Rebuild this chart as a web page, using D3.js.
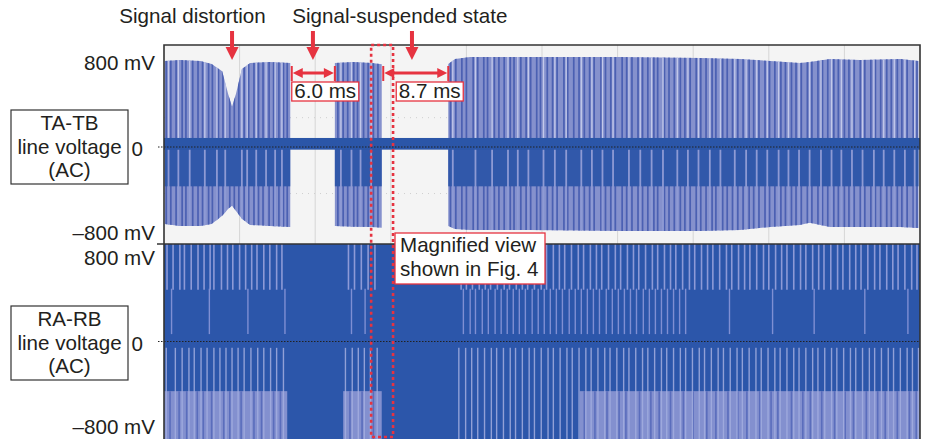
<!DOCTYPE html>
<html>
<head>
<meta charset="utf-8">
<script src="https://cdn.jsdelivr.net/npm/d3@7"></script>
<style>
  body { margin: 0; background: #fff; }
  svg text { font-family: "Liberation Sans", Arial, Helvetica, sans-serif; font-size: 20.6px; fill: #231f20; }
</style>
</head>
<body>
<svg width="926" height="439"></svg>
<script>
// time axis in ms (10 ms / division), voltage in mV
const timeDomain = [0, 100];
const voltTicks = [800, 0, -800];
const voltLabels = ["800 mV", "0", "\u2013800 mV"];
const channelNames = [["TA-TB", "line voltage", "(AC)"], ["RA-RB", "line voltage", "(AC)"]];

// TA-TB envelope samples [t, top, bottom]; null = no signal
const taEnvelope = [
  [0.1, 810, -724], [2.1, 819, -743], [4.8, 810, -743], [6.3, 781, -724], [7.7, 714, -648],
  [8.5, 495, -581], [9.0, 381, -552], [9.5, 495, -600], [10.3, 733, -676], [11.4, 790, -733],
  [14.0, 800, -743], [16.7, 790, -752],
  null,
  [22.6, 790, -743], [25.0, 800, -750], [27.5, 790, -752], [28.8, 780, -760],
  null,
  [37.6, 781, -743], [38.5, 829, -771], [40.5, 848, -781], [48.4, 848, -781], [60.3, 848, -790],
  [70.9, 838, -790], [76.2, 829, -781], [80.2, 810, -752], [84.1, 790, -733], [85.4, 800, -714],
  [88.1, 829, -752], [92.1, 819, -752], [97.4, 829, -752], [99.8, 810, -762]
];
// dark and pale traces inside the TA-TB bursts (ms)
const taDark = [0.3, 0.9, 1.6, 2.4, 2.9, 3.8, 4.5, 5.1, 5.9, 6.4, 7.2, 7.8, 8.7, 9.3, 9.9, 10.6, 11.2,
  11.9, 12.5, 13.1, 13.9, 14.5, 15.2, 15.8, 16.3,
  23.0, 23.7, 24.3, 25.1, 25.6, 26.4, 27.0, 27.7, 28.3,
  37.9, 38.6, 39.4, 40.0, 40.9, 41.5, 42.3, 42.8, 43.7, 44.3, 45.0, 45.8, 46.3, 47.2, 47.9, 48.5,
  49.3, 49.8, 50.7, 51.4, 52.0, 52.9, 53.4, 54.2, 54.9, 55.6, 56.3, 56.9, 57.8, 58.4, 59.1, 59.7,
  60.6, 61.2, 61.9, 62.7, 63.3, 64.0, 64.8, 65.3, 66.2, 66.8, 67.5, 68.3, 68.9, 69.6, 70.4, 71.0,
  71.7, 72.5, 73.0, 73.9, 74.5, 75.2, 75.9, 76.6, 77.4, 78.0, 78.7, 79.5, 80.1, 80.8, 81.6, 82.2,
  83.0, 83.6, 84.3, 85.1, 85.7, 86.5, 87.1, 87.8, 88.6, 89.2, 90.0, 90.6, 91.3, 92.1, 92.7, 93.5,
  94.1, 94.8, 95.6, 96.2, 97.0, 97.6, 98.3, 99.1, 99.6];
const taPale = [0.6, 1.9, 3.4, 5.4, 7.0, 8.1, 10.3, 11.0, 12.2, 13.5, 14.7, 15.6,
  23.4, 24.8, 26.0, 27.4,
  38.2, 41.2, 43.4, 45.5, 46.8, 48.2, 50.2, 51.7, 53.2, 55.2, 56.6, 58.0, 59.4, 61.5, 63.0, 64.5,
  66.0, 67.9, 69.3, 70.7, 72.2, 73.6, 75.5, 77.0, 78.4, 79.8, 81.3, 82.6, 84.0, 85.4, 86.9, 88.3,
  89.6, 91.0, 92.4, 93.9, 95.2, 96.6, 98.0, 99.3];

// RA-RB: pale lower bands [t0, t1] and traces (ms)
const raPaleBands = [[0, 16.3], [23.7, 28.8], [55.0, 100]];
const raUpper = [0.4, 1.2, 2.1, 2.7, 3.6, 4.5, 5.3, 6.1, 6.6, 7.6, 8.4, 9.1, 10.0, 10.8, 11.6, 12.3,
  13.2, 14.0, 14.9, 15.6,
  24.4, 25.2, 26.1, 27.0, 27.9,
  39.3, 40.0, 40.8, 41.7, 42.5, 43.2, 44.1, 45.0, 45.7, 46.6, 47.4, 48.1, 49.0, 49.9, 50.6, 51.5,
  52.3, 53.0, 53.9, 54.8, 55.5, 56.4, 57.2, 57.9, 58.8, 59.7, 60.4, 61.3, 62.1, 62.8, 63.7, 64.6,
  65.3, 66.2, 67.0, 67.7, 68.6, 69.5, 70.2, 71.1, 71.9, 72.6, 73.5, 74.4, 75.1, 76.0, 76.8, 77.5,
  78.4, 79.3, 80.0, 80.9, 81.7, 82.4, 83.3, 84.2, 84.9, 85.8, 86.6, 87.3, 88.2, 89.1, 89.8, 90.7,
  91.5, 92.2, 93.1, 94.0, 94.7, 95.6, 96.4, 97.1, 98.0, 98.9, 99.6];
const raLong = [1.0, 6.0, 11.1, 16.0, 24.8, 26.6,
  39.6, 40.5, 41.2, 42.1, 42.9, 43.8, 44.6, 45.4, 46.2, 47.0, 47.8, 48.7, 49.5, 50.3, 51.1, 51.9,
  52.7, 53.6, 54.4, 55.2, 56.0, 56.8, 57.6, 58.5, 59.3, 60.1, 60.9, 61.7, 62.5, 63.4, 64.2, 65.0,
  65.8, 66.6, 67.4, 68.2, 69.0, 74.8, 80.5, 86.0, 92.7, 98.4];
const raLower = [0.3, 1.5, 2.4, 3.3, 4.0, 4.9, 5.7, 6.6, 7.4, 8.2, 9.0, 9.8, 10.6, 11.5, 12.4, 13.2,
  14.1, 14.9, 15.8,
  24.0, 24.9, 25.7, 26.5, 27.3, 28.2,
  39.0, 39.9, 40.7, 41.5, 42.4, 43.3, 44.0, 44.9, 45.8, 46.5, 47.4, 48.3, 49.0, 49.9, 50.8, 51.5,
  52.4, 53.3, 54.0, 54.9, 55.8, 56.5, 57.4, 58.3, 59.0, 59.9, 60.8, 61.5, 62.4, 63.3, 64.0, 64.9,
  65.8, 66.5, 67.4, 68.3, 69.0, 69.9, 70.8, 71.5, 72.4, 73.3, 74.0, 74.9, 75.8, 76.5, 77.4, 78.3,
  79.0, 79.9, 80.8, 81.5, 82.4, 83.3, 84.0, 84.9, 85.8, 86.5, 87.4, 88.3, 89.0, 89.9, 90.8, 91.5,
  92.4, 93.3, 94.0, 94.9, 95.8, 96.5, 97.4, 98.3, 99.0, 99.8];
const raBandDark = [0.8, 2.0, 3.0, 4.4, 5.2, 6.3, 7.9, 8.7, 10.2, 11.9, 12.9, 14.5, 15.4,
  24.6, 26.2, 27.7,
  55.6, 57.0, 58.6, 60.2, 61.1, 62.9, 64.4, 65.5, 67.0, 68.7, 70.0, 71.8, 73.0, 74.6, 75.9, 77.1,
  78.8, 80.3, 81.2, 83.0, 84.5, 85.5, 87.0, 88.7, 90.1, 91.2, 92.9, 94.4, 95.4, 97.0, 98.6, 99.5];

// annotations
const arrowTimes = [9.0, 19.7, 32.8];
const headings = [{ label: "Signal distortion", t: 3.77 }, { label: "Signal-suspended state", t: 31.2 }];
const spans = [{ t0: 16.9, t1: 22.6, label: "6.0 ms", dx: 0 }, { t0: 29.0, t1: 37.6, label: "8.7 ms", dx: 13 }];
const zoomWindow = [27.4, 30.3];

const red = "#e63340";
const svg = d3.select("svg");
const defs = svg.append("defs");

const x = d3.scaleLinear().domain(timeDomain).range([164, 920]);
const yTop = d3.scaleLinear().domain([-800, 800]).range([232, 62]);
const yBot = d3.scaleLinear().domain([-800, 800]).range([426, 257]);
const plotW = x(100) - x(0);

defs.append("clipPath").attr("id", "topClip")
  .append("rect").attr("x", x(0)).attr("y", 45).attr("width", plotW).attr("height", 199);
defs.append("clipPath").attr("id", "botClip")
  .append("rect").attr("x", x(0)).attr("y", 244).attr("width", plotW).attr("height", 195);

// background and grid
svg.append("rect").attr("x", x(0)).attr("y", 45).attr("width", plotW).attr("height", 394).attr("fill", "#f4f4f4");
svg.append("g").selectAll("line").data(x.ticks(10).slice(1, -1)).join("line")
  .attr("x1", d => x(d)).attr("x2", d => x(d)).attr("y1", 45).attr("y2", 439)
  .attr("stroke", "#d6d6d6").attr("stroke-width", 1);
svg.append("g").selectAll("line").data([276, -438]).join("line")
  .attr("x1", x(0)).attr("x2", x(100)).attr("y1", d => yTop(d)).attr("y2", d => yTop(d))
  .attr("stroke", "#cfcfcf").attr("stroke-dasharray", "1,5");

// ---- TA-TB trace ----
const envArea = d3.area().defined(d => d)
  .x(d => x(d[0])).y0(d => yTop(d[2])).y1(d => yTop(d[1]));
defs.append("clipPath").attr("id", "envClip").append("path").attr("d", envArea(taEnvelope));

const taG = svg.append("g").attr("clip-path", "url(#topClip)");
taG.append("path").attr("d", envArea(taEnvelope)).attr("fill", "#8591cd");
const burst = taG.append("g").attr("clip-path", "url(#envClip)");
burst.selectAll(".dk").data(taDark).join("line").attr("class", "dk")
  .attr("x1", d => x(d)).attr("x2", d => x(d)).attr("y1", yTop(950)).attr("y2", yTop(-950))
  .attr("stroke", "#4b60b2").attr("stroke-width", 1.7);
burst.append("rect").attr("x", x(0)).attr("width", plotW)
  .attr("y", yTop(0)).attr("height", yTop(-370) - yTop(0)).attr("fill", "#3158aa");
burst.selectAll(".pu").data(taPale).join("line").attr("class", "pu")
  .attr("x1", d => x(d)).attr("x2", d => x(d)).attr("y1", yTop(950)).attr("y2", yTop(60))
  .attr("stroke", "#c3c9ea").attr("stroke-width", 1.3);
burst.selectAll(".pl").data(taPale).join("line").attr("class", "pl")
  .attr("x1", d => x(d)).attr("x2", d => x(d)).attr("y1", yTop(-20)).attr("y2", yTop(-950))
  .attr("stroke", "#8e9ad4").attr("stroke-width", 1.8);
taG.append("rect").attr("x", x(0)).attr("width", plotW)
  .attr("y", yTop(85)).attr("height", yTop(-25) - yTop(85)).attr("fill", "#2b56a8");

// ---- RA-RB trace ----
const raG = svg.append("g").attr("clip-path", "url(#botClip)");
raG.append("rect").attr("x", x(0)).attr("width", plotW).attr("y", 244).attr("height", 195).attr("fill", "#2c56aa");
raG.selectAll(".band").data(raPaleBands).join("rect").attr("class", "band")
  .attr("x", d => x(d[0])).attr("width", d => x(d[1]) - x(d[0]))
  .attr("y", yBot(-470)).attr("height", yBot(-1000) - yBot(-470)).attr("fill", "#8390cf");
raG.selectAll(".bd").data(raBandDark).join("line").attr("class", "bd")
  .attr("x1", d => x(d)).attr("x2", d => x(d)).attr("y1", yBot(-470)).attr("y2", yBot(-1000))
  .attr("stroke", "#5a6dbc").attr("stroke-width", 1.6);
raG.selectAll(".ru").data(raUpper).join("line").attr("class", "ru")
  .attr("x1", d => x(d)).attr("x2", d => x(d)).attr("y1", yBot(1000)).attr("y2", yBot(490))
  .attr("stroke", "#8d9ad7").attr("stroke-width", 1.6);
raG.selectAll(".rl").data(raLong).join("line").attr("class", "rl")
  .attr("x1", d => x(d)).attr("x2", d => x(d)).attr("y1", yBot(500)).attr("y2", yBot(70))
  .attr("stroke", "#7f8fd3").attr("stroke-width", 1.4);
raG.selectAll(".rw").data(raLower).join("line").attr("class", "rw")
  .attr("x1", d => x(d)).attr("x2", d => x(d)).attr("y1", yBot(-60)).attr("y2", yBot(-1000))
  .attr("stroke", "#a3aee0").attr("stroke-width", 1.4).attr("opacity", 0.85);

// zero lines
[yTop, yBot].forEach(y => {
  svg.append("line").attr("x1", 158).attr("x2", x(100)).attr("y1", y(0)).attr("y2", y(0))
    .attr("stroke", "#222").attr("stroke-width", 1).attr("stroke-dasharray", "1.5,1.5");
});

// frame
svg.append("path").attr("d", `M${x(0)},439V45H${x(100)}V439`).attr("fill", "none").attr("stroke", "#333").attr("stroke-width", 1.6);
svg.append("line").attr("x1", 157).attr("x2", x(100)).attr("y1", 244).attr("y2", 244).attr("stroke", "#333").attr("stroke-width", 1.6);

// voltage labels
[yTop, yBot].forEach(y => {
  svg.append("g").selectAll("text").data(voltTicks).join("text")
    .attr("x", d => d === 0 ? 143 : 155).attr("y", d => y(d) + (d === 0 ? 9 : 8))
    .attr("text-anchor", "end").text((d, i) => voltLabels[i]);
});

// channel boxes
[110, 306].forEach((by, i) => {
  const g = svg.append("g");
  g.append("rect").attr("x", 11).attr("y", by).attr("width", 117).attr("height", 74)
    .attr("fill", "#fff").attr("stroke", "#333").attr("stroke-width", 1.2);
  g.selectAll("text").data(channelNames[i]).join("text")
    .attr("x", 69.5).attr("y", (d, j) => by + 20 + j * 23.5).attr("text-anchor", "middle").text(d => d);
});

// headings and arrows
svg.selectAll(".head").data(headings).join("text").attr("class", "head")
  .attr("x", d => x(d.t)).attr("y", 23).attr("text-anchor", "middle").text(d => d.label);
arrowTimes.forEach(t => {
  const cx = x(t);
  svg.append("line").attr("x1", cx).attr("x2", cx).attr("y1", 31).attr("y2", 49).attr("stroke", red).attr("stroke-width", 4);
  svg.append("path").attr("d", `M${cx - 6.5},47L${cx + 6.5},47L${cx},60Z`).attr("fill", red);
});

// duration spans
spans.forEach(s => {
  const a = x(s.t0), b = x(s.t1), yy = 73;
  svg.append("line").attr("x1", a + 6).attr("x2", b - 6).attr("y1", yy).attr("y2", yy).attr("stroke", red).attr("stroke-width", 3);
  svg.append("path").attr("d", `M${a + 1},${yy}L${a + 11},${yy - 5}L${a + 11},${yy + 5}Z`).attr("fill", red);
  svg.append("path").attr("d", `M${b - 1},${yy}L${b - 11},${yy - 5}L${b - 11},${yy + 5}Z`).attr("fill", red);
  [a, b].forEach(p => svg.append("line").attr("x1", p).attr("x2", p).attr("y1", 66).attr("y2", 81).attr("stroke", red).attr("stroke-width", 2));
  const bx = a + s.dx;
  svg.append("rect").attr("x", bx).attr("y", 82).attr("width", 67).attr("height", 19)
    .attr("fill", "#fff").attr("stroke", red).attr("stroke-width", 1.3);
  svg.append("text").attr("x", bx + 33.5).attr("y", 98).attr("text-anchor", "middle").text(s.label);
});

// magnified window
svg.append("rect").attr("x", x(zoomWindow[0])).attr("y", 45)
  .attr("width", x(zoomWindow[1]) - x(zoomWindow[0])).attr("height", 392)
  .attr("fill", "none").attr("stroke", red).attr("stroke-width", 2.6).attr("stroke-dasharray", "3,3");
svg.append("rect").attr("x", 395).attr("y", 233).attr("width", 150).attr("height", 51)
  .attr("fill", "#fff").attr("stroke", red).attr("stroke-width", 1.3);
svg.append("text").attr("x", 400).attr("y", 252).text("Magnified view");
svg.append("text").attr("x", 400).attr("y", 276).text("shown in Fig. 4");
</script>
</body>
</html>
